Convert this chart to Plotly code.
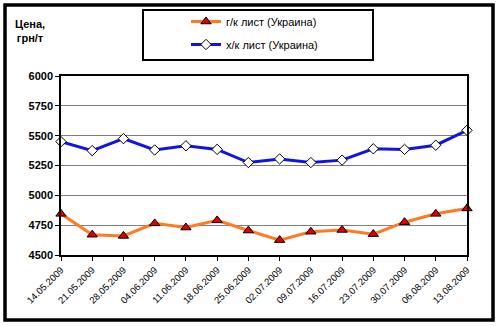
import plotly.graph_objects as go

dates = ["14.05.2009", "21.05.2009", "28.05.2009", "04.06.2009", "11.06.2009",
         "18.06.2009", "25.06.2009", "02.07.2009", "09.07.2009", "16.07.2009",
         "23.07.2009", "30.07.2009", "06.08.2009", "13.08.2009"]
hot_rolled = [4845, 4670, 4660, 4765, 4730, 4790, 4705, 4625, 4695, 4710,
              4675, 4775, 4845, 4890]
cold_rolled = [5450, 5375, 5475, 5380, 5415, 5385, 5275, 5305, 5275, 5295,
               5390, 5385, 5420, 5545]
y_ticks = [4500, 4750, 5000, 5250, 5500, 5750, 6000]

W, H = 500, 326
L, R, T, B = 61, 33, 76, 71
pw, ph = W - L - R, H - T - B


def px_x(x):
    return (x - L) / pw


def px_y(y):
    return (H - B - y) / ph


fig = go.Figure()
fig.add_trace(go.Scatter(
    x=dates, y=hot_rolled, name="г/к лист (Украина)", legendgroup="a",
    mode="lines+markers", cliponaxis=False,
    line=dict(color="#FF7A22", width=3),
    marker=dict(symbol="triangle-up", size=9, color="#E00000",
                line=dict(color="black", width=1)),
))
fig.add_trace(go.Scatter(
    x=dates, y=cold_rolled, name="х/к лист (Украина)", legendgroup="b",
    mode="lines+markers", cliponaxis=False,
    line=dict(color="#1414E0", width=3),
    marker=dict(symbol="diamond", size=8, color="white",
                line=dict(color="black", width=1)),
))

font = "Arial, Liberation Sans, sans-serif"

fig.update_layout(
    width=W, height=H,
    margin=dict(l=L, r=R, t=T, b=B, autoexpand=False),
    paper_bgcolor="white", plot_bgcolor="white",
    font=dict(family=font, color="black"),
    showlegend=True,
    legend=dict(
        x=px_x(186), y=px_y(7), xanchor="left", yanchor="top",
        bgcolor="rgba(0,0,0,0)", borderwidth=0,
        font=dict(size=11, family=font), tracegroupgap=4,
        itemwidth=30,
    ),
    xaxis=dict(
        type="category", range=[0, len(dates) - 1],
        showgrid=False, showline=True, linecolor="black", linewidth=1.5,
        mirror=True, ticks="outside", ticklen=4, tickcolor="black",
        tickangle=-45, tickfont=dict(size=9.5, family=font),
    ),
    yaxis=dict(
        range=[4500, 6000], tickvals=y_ticks,
        showgrid=True, gridcolor="#7F7F7F", gridwidth=1,
        showline=True, linecolor="black", linewidth=1.5, mirror=True,
        ticks="outside", ticklen=4, tickcolor="black",
        tickfont=dict(size=11, family=font, weight="bold"),
        zeroline=False,
    ),
    annotations=[dict(
        text="<b>Цена,<br>грн/т</b>", xref="paper", yref="paper",
        x=px_x(30), y=px_y(31), xanchor="center", yanchor="middle",
        showarrow=False, font=dict(size=11, family=font), align="center",
    )],
    shapes=[
        # legend frame
        dict(type="rect", xref="paper", yref="paper",
             x0=px_x(143), x1=px_x(373), y0=px_y(60), y1=px_y(10),
             line=dict(color="black", width=2)),
        # outer chart frame
        dict(type="rect", xref="paper", yref="paper",
             x0=px_x(5), x1=px_x(493), y0=px_y(320), y1=px_y(5),
             line=dict(color="black", width=3.5)),
    ],
)

fig.write_html("out.html")
